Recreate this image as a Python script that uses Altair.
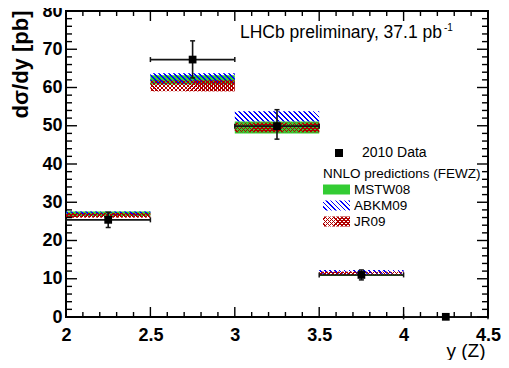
import altair as alt
import pandas as pd

# ---------------- data ----------------
bin_lo = [2.0, 2.5, 3.0, 3.5, 4.0]
bin_hi = [2.5, 3.0, 3.5, 4.0, 4.5]
bin_mid = [2.25, 2.75, 3.25, 3.75, 4.25]
data_y = [25.4, 67.3, 49.9, 11.0, 0.05]
data_up = [27.4, 72.2, 54.2, 12.3, 0.15]
data_dn = [23.4, 62.5, 46.5, 9.7, 0.0]

pred_lo = [2.0, 2.5, 3.0, 3.5]
pred_hi = [2.5, 3.0, 3.5, 4.0]
mstw_lo = [26.4, 60.8, 48.0, 10.7]
mstw_hi = [27.6, 63.2, 51.1, 11.1]
abkm_lo = [26.6, 61.0, 51.1, 11.3]
abkm_hi = [27.6, 63.7, 53.8, 12.3]
jr09_lo = [26.0, 59.0, 48.3, 10.9]
jr09_hi = [27.2, 61.8, 50.8, 11.8]

y_major = [0, 10, 20, 30, 40, 50, 60, 70, 80]
y_minor = [2, 4, 6, 8, 12, 14, 16, 18, 22, 24, 26, 28, 32, 34, 36, 38,
           42, 44, 46, 48, 52, 54, 56, 58, 62, 64, 66, 68, 72, 74, 76, 78]
x_major = [2.0, 2.5, 3.0, 3.5, 4.0, 4.5]
x_minor = [2.1, 2.2, 2.3, 2.4, 2.6, 2.7, 2.8, 2.9, 3.1, 3.2, 3.3, 3.4,
           3.6, 3.7, 3.8, 3.9, 4.1, 4.2, 4.3, 4.4]

legend_labels = ["2010 Data", "NNLO predictions (FEWZ)", "MSTW08", "ABKM09", "JR09"]
title_text = "LHCb preliminary, 37.1 pb"
title_sup = "-1"

# ---------------- style / layout ----------------
PL, PT, PR, PB = 58, 3, 13, 43
W, H = 422, 306
OX, OY = 8 + PL, 8 + PT          # page position of plot's top-left corner
XMIN, XMAX, YMIN, YMAX = 2.0, 4.5, 0.0, 80.0
FONT = "Liberation Sans"
GREEN = "#33cc33"
BLUE = "#0000ff"
RED = "#b00000"
T = "rgba(255,255,255,0)"

xs = alt.Scale(domain=[XMIN, XMAX], nice=False, zero=False)
ys = alt.Scale(domain=[YMIN, YMAX], nice=False, zero=False)

XAX = alt.Axis(
    values=x_major, format="~g", ticks=False, domain=False, grid=False,
    labelFontSize=18, labelFontWeight="bold", labelFont=FONT, labelColor="black",
    labelPadding=9, title="y (Z)", titleFont=FONT, titleFontSize=19,
    titleFontWeight="normal", titleColor="black", titleX=W - 3, titleY=33,
    titleAlign="right", titleBaseline="middle", labelFlush=False)
YAX = alt.Axis(
    values=y_major, ticks=False, domain=False, grid=False,
    labelFontSize=18, labelFontWeight="bold", labelFont=FONT, labelColor="black",
    labelPadding=4, title="dσ/dy [pb]", titleFont=FONT, titleFontSize=22,
    titleFontWeight="bold", titleColor="black", titleAngle=270,
    titleAlign="right", titleBaseline="middle", titleX=20 - OX, titleY=10 - OY,
    labelFlush=False)


def X(f):
    return alt.X(f, scale=xs, axis=XAX)


def Y(f):
    return alt.Y(f, scale=ys, axis=YAX)


def hatch(color, direction, width_px, height_px, spacing, duty):
    r = height_px / width_px
    dx, dy = (1.0, -r) if direction == "back" else (1.0, r)
    dots = [0.0, dx, dy, dx + dy]
    dmin, dmax = min(dots), max(dots)
    n2 = dx * dx + dy * dy
    x1, y1 = dx * dmin / n2, dy * dmin / n2
    x2, y2 = dx * dmax / n2, dy * dmax / n2
    n = max(1, int(round(width_px * (dmax - dmin) / spacing)))
    stops = []
    for i in range(n):
        a = i / n
        b = (i + 1 - duty) / n
        c = (i + 1) / n
        stops += [alt.GradientStop(offset=a, color=T),
                  alt.GradientStop(offset=b, color=T),
                  alt.GradientStop(offset=b, color=color),
                  alt.GradientStop(offset=c, color=color)]
    return alt.LinearGradient(gradient="linear", stops=stops,
                              x1=x1, y1=y1, x2=x2, y2=y2)


px_per_x = W / (XMAX - XMIN)
px_per_y = H / (YMAX - YMIN)

layers = []

# MSTW green bands
mstw_df = pd.DataFrame({"lo": pred_lo, "hi": pred_hi, "ylo": mstw_lo, "yhi": mstw_hi})
layers.append(alt.Chart(mstw_df).mark_rect(fill=GREEN).encode(
    x=X("lo:Q"), x2="hi:Q", y=Y("ylo:Q"), y2="yhi:Q"))

# ABKM blue hatch, JR09 red cross-hatch (one rect per bin)
for i in range(len(pred_lo)):
    wpx = (pred_hi[i] - pred_lo[i]) * px_per_x
    df = pd.DataFrame({"lo": [pred_lo[i]], "hi": [pred_hi[i]],
                       "ylo": [abkm_lo[i]], "yhi": [abkm_hi[i]]})
    hpx = (abkm_hi[i] - abkm_lo[i]) * px_per_y
    layers.append(alt.Chart(df).mark_rect(
        fill=hatch(BLUE, "back", wpx, hpx, 5.0, 0.35)).encode(
        x=X("lo:Q"), x2="hi:Q", y=Y("ylo:Q"), y2="yhi:Q"))
for i in range(len(pred_lo)):
    wpx = (pred_hi[i] - pred_lo[i]) * px_per_x
    df = pd.DataFrame({"lo": [pred_lo[i]], "hi": [pred_hi[i]],
                       "ylo": [jr09_lo[i]], "yhi": [jr09_hi[i]]})
    hpx = (jr09_hi[i] - jr09_lo[i]) * px_per_y
    for d in ["back", "fwd"]:
        layers.append(alt.Chart(df).mark_rect(
            fill=hatch(RED, d, wpx, hpx, 4.0, 0.4)).encode(
            x=X("lo:Q"), x2="hi:Q", y=Y("ylo:Q"), y2="yhi:Q"))

# data points
ddf = pd.DataFrame({"lo": bin_lo, "hi": bin_hi, "mid": bin_mid,
                    "y": data_y, "up": data_up, "dn": data_dn})
ERR = "#141414"
layers.append(alt.Chart(ddf).mark_rule(color=ERR, strokeWidth=1.6).encode(
    x=X("lo:Q"), x2="hi:Q", y=Y("y:Q")))
layers.append(alt.Chart(ddf).mark_rule(color=ERR, strokeWidth=1.6).encode(
    x=X("mid:Q"), y=Y("dn:Q"), y2="up:Q"))
for f in ["lo", "hi"]:
    layers.append(alt.Chart(ddf).mark_tick(color=ERR, orient="vertical", size=5,
                                           thickness=1.5, opacity=1).encode(
        x=X(f + ":Q"), y=Y("y:Q")))
for f in ["up", "dn"]:
    layers.append(alt.Chart(ddf).mark_tick(color=ERR, orient="horizontal", size=5,
                                           thickness=1.5, opacity=1).encode(
        x=X("mid:Q"), y=Y(f + ":Q")))
layers.append(alt.Chart(ddf).mark_square(color="black", size=60, opacity=1,
                                         filled=True).encode(
    x=X("mid:Q"), y=Y("y:Q")))

# ticks inside the frame
ymaj = pd.DataFrame({"v": y_major})
ymin = pd.DataFrame({"v": y_minor})
xmaj = pd.DataFrame({"v": x_major})
xmin = pd.DataFrame({"v": x_minor})
TW = 1.4
for df, ln in [(ymaj, 11), (ymin, 6)]:
    layers.append(alt.Chart(df).mark_rule(color="black", strokeWidth=TW).encode(
        y=Y("v:Q"), x=alt.value(0), x2=alt.value(ln)))
    layers.append(alt.Chart(df).mark_rule(color="black", strokeWidth=TW).encode(
        y=Y("v:Q"), x=alt.value(W), x2=alt.value(W - ln)))
for df, ln in [(xmaj, 10), (xmin, 5)]:
    layers.append(alt.Chart(df).mark_rule(color="black", strokeWidth=TW).encode(
        x=X("v:Q"), y=alt.value(H), y2=alt.value(H - ln)))
    layers.append(alt.Chart(df).mark_rule(color="black", strokeWidth=TW).encode(
        x=X("v:Q"), y=alt.value(0), y2=alt.value(ln)))

# title text (page coordinates converted to plot coordinates)
layers.append(alt.Chart(pd.DataFrame({"t": [title_text]})).mark_text(
    align="left", baseline="alphabetic", font=FONT, fontSize=17.5, color="black").encode(
    text="t:N", x=alt.value(240 - OX), y=alt.value(38 - OY)))
layers.append(alt.Chart(pd.DataFrame({"t": [title_sup]})).mark_text(
    align="left", baseline="alphabetic", font=FONT, fontSize=10, color="black").encode(
    text="t:N", x=alt.value(444 - OX), y=alt.value(31 - OY)))

# legend
layers.append(alt.Chart(pd.DataFrame({"a": [0]})).mark_square(
    color="black", size=64, opacity=1, filled=True).encode(
    x=alt.value(339 - OX), y=alt.value(153 - OY)))
leg_px = [362, 323, 354, 354, 354]
leg_py = [153, 174, 189.5, 205.5, 221.5]
leg_fs = [14, 13.5, 13.5, 13.5, 13.5]
for i in range(len(legend_labels)):
    layers.append(alt.Chart(pd.DataFrame({"t": [legend_labels[i]]})).mark_text(
        align="left", baseline="middle", font=FONT, fontSize=leg_fs[i],
        color="black").encode(
        text="t:N", x=alt.value(leg_px[i] - OX), y=alt.value(leg_py[i] - OY)))

sw = pd.DataFrame({"a": [0]})
sx1, sx2 = 323 - OX, 350 - OX
layers.append(alt.Chart(sw).mark_rect(fill=GREEN).encode(
    x=alt.value(sx1), x2=alt.value(sx2), y=alt.value(184.5 - OY), y2=alt.value(194.5 - OY)))
layers.append(alt.Chart(sw).mark_rect(fill=hatch(BLUE, "back", 27, 10, 4.5, 0.35)).encode(
    x=alt.value(sx1), x2=alt.value(sx2), y=alt.value(200.5 - OY), y2=alt.value(210.5 - OY)))
for d in ["back", "fwd"]:
    layers.append(alt.Chart(sw).mark_rect(fill=hatch(RED, d, 27, 10, 4.0, 0.4)).encode(
        x=alt.value(sx1), x2=alt.value(sx2), y=alt.value(216.5 - OY), y2=alt.value(226.5 - OY)))

chart = alt.layer(*layers).properties(
    width=W, height=H,
    padding={"left": PL, "top": PT, "right": PR, "bottom": PB},
    autosize=alt.AutoSizeParams(type="none"),
    background="white",
).configure_view(stroke="black", strokeWidth=2)

chart.save("out.html", embed_options={"renderer": "svg", "actions": False})
